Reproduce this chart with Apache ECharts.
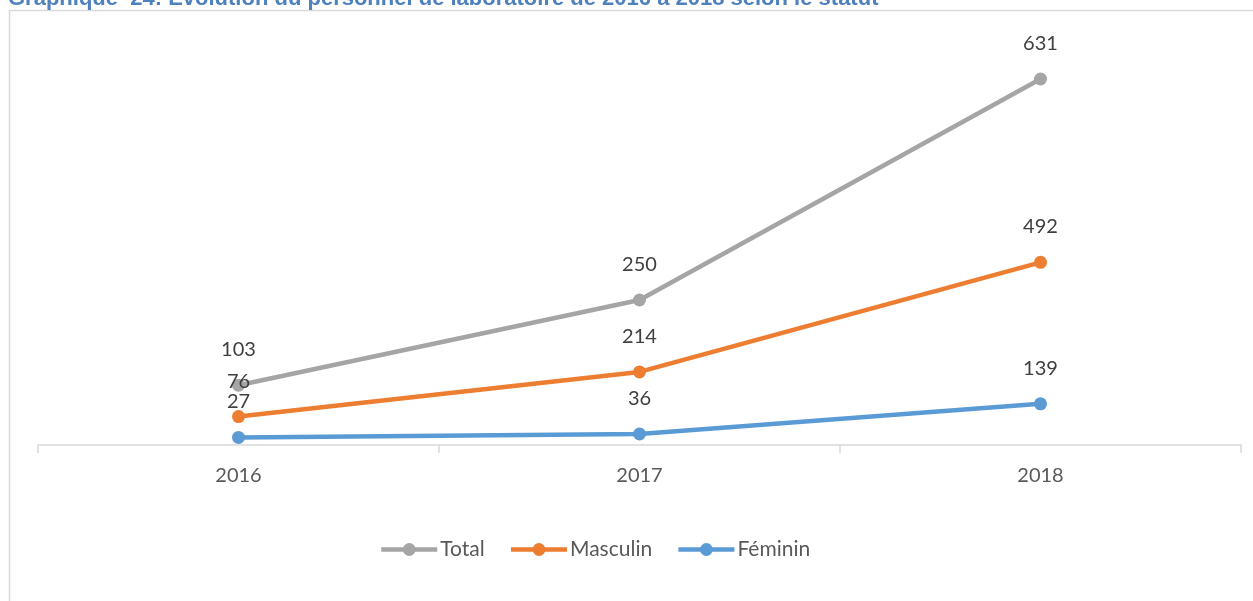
<!DOCTYPE html>
<html>
<head>
    <meta charset="utf-8">
    <title>Graphique 24</title>
    <script src="https://cdn.jsdelivr.net/npm/echarts@6/dist/echarts.min.js"></script>
    <style>
        html, body { margin: 0; padding: 0; background: #fff; }
        #main { width: 1253px; height: 601px; }
    </style>
</head>
<body>
    <div id="main"></div>
    <script>
        // années
        var annees = ['2016', '2017', '2018'];
        // positions tracées
        var total = [103, 250, 631];
        var masculin = [49, 126, 315];
        var feminin = [13, 19, 71];
        // étiquettes affichées
        var labelsTotal = ['103', '250', '631'];
        var labelsMasculin = ['76', '214', '492'];
        var labelsFeminin = ['27', '36', '139'];

        var police = 'Lato, "Open Sans", sans-serif';

        function serie(nom, couleur, valeurs, etiquettes) {
            return {
                name: nom,
                type: 'line',
                data: valeurs,
                symbol: 'circle',
                symbolSize: 13,
                lineStyle: { width: 4.5, color: couleur },
                itemStyle: { color: couleur },
                label: {
                    show: true,
                    position: 'top',
                    distance: 19,
                    fontFamily: police,
                    fontSize: 20,
                    color: '#404040',
                    formatter: function (p) { return etiquettes[p.dataIndex]; }
                },
                emphasis: { disabled: true }
            };
        }

        var myChart = echarts.init(document.getElementById('main'));
        myChart.setOption({
            animation: false,
            graphic: [
                {
                    type: 'rect',
                    shape: { x: 9.5, y: 10.5, width: 1400, height: 800 },
                    style: { fill: 'none', stroke: '#D9D9D9', lineWidth: 1.5 },
                    z: -1
                },
                {
                    type: 'text',
                    x: 8,
                    y: 10,
                    style: {
                        text: 'Graphique  24: Evolution du personnel de laboratoire de 2016 à 2018 selon le statut',
                        fill: '#4F81BD',
                        font: 'bold 22px "Liberation Sans", Arial, sans-serif',
                        textVerticalAlign: 'bottom'
                    }
                }
            ],
            grid: { left: 38, right: 12, top: 39, bottom: 156 },
            legend: {
                bottom: 36,
                left: 374,
                itemWidth: 56,
                itemHeight: 16,
                itemGap: 24,
                lineStyle: { width: 4.5 },
                textStyle: { fontFamily: police, fontSize: 21, color: '#595959', padding: [0, 0, 0, -2] },
                data: ['Total', 'Masculin', 'Féminin']
            },
            xAxis: {
                type: 'category',
                data: annees,
                boundaryGap: true,
                axisLine: { lineStyle: { color: '#D9D9D9', width: 1.5 } },
                axisTick: { show: true, length: 8, lineStyle: { color: '#D9D9D9', width: 1.5 } },
                axisLabel: { margin: 21, fontFamily: police, fontSize: 20, color: '#595959' }
            },
            yAxis: {
                type: 'value',
                min: 0,
                max: 700,
                show: false,
                splitLine: { show: false }
            },
            series: [
                serie('Total', '#A5A5A5', total, labelsTotal),
                serie('Masculin', '#ED7D31', masculin, labelsMasculin),
                serie('Féminin', '#5B9BD5', feminin, labelsFeminin)
            ]
        });
    </script>
</body>
</html>
